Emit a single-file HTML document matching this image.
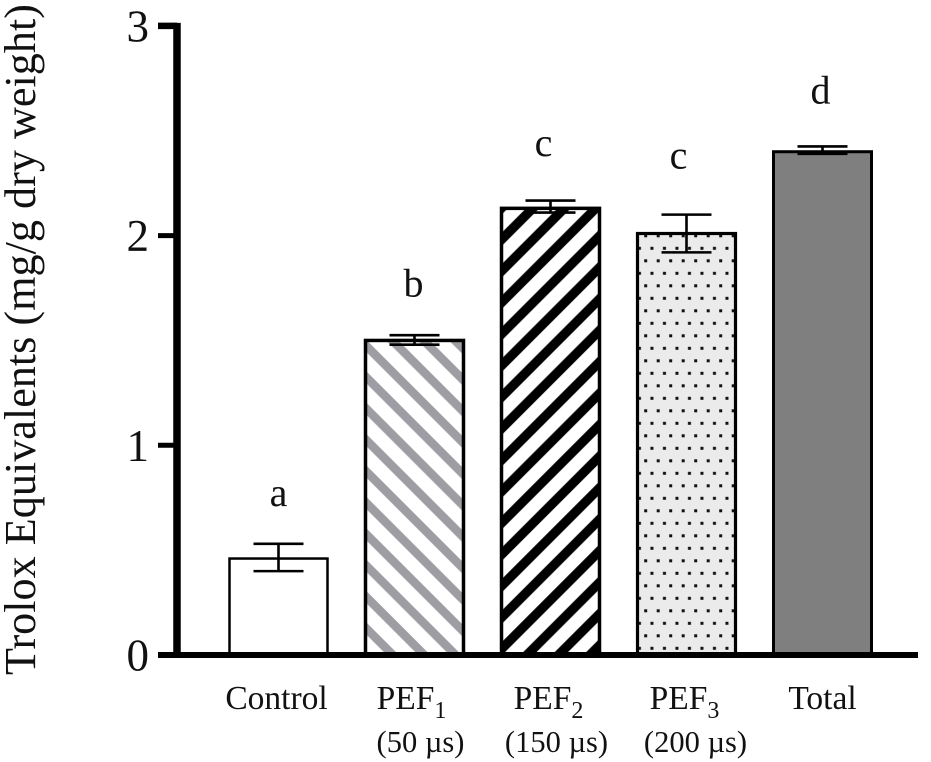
<!DOCTYPE html>
<html lang="en">
<head>
<meta charset="utf-8">
<title>Trolox Equivalents by Treatment</title>
<style>
  html, body { margin: 0; padding: 0; background: #fff; }
  svg { display: block; font-family: "Liberation Serif", "Times New Roman", serif; fill: #111; }
</style>
</head>
<body>
<svg id="chart" xmlns="http://www.w3.org/2000/svg" width="931" height="762" viewBox="0 0 931 762">
  <defs>
    <pattern id="stripe-gray" patternUnits="userSpaceOnUse" width="22.2" height="22.2" patternTransform="rotate(-45)">
      <rect x="10.12" y="0" width="8.6" height="22.2" fill="#9d9da3"/>
    </pattern>
    <pattern id="stripe-black" patternUnits="userSpaceOnUse" width="22.27" height="22.27" patternTransform="rotate(45)">
      <rect x="7.1" y="0" width="9.4" height="22.27" fill="#000"/>
    </pattern>
    <pattern id="dots" patternUnits="userSpaceOnUse" width="12.5" height="25" patternTransform="translate(645.7 248.3)">
      <rect x="-1" y="-1" width="14.5" height="27" fill="#ebebeb"/>
      <rect x="4.75" y="-1.5" width="3" height="3" fill="#111"/>
      <rect x="4.75" y="23.5" width="3" height="3" fill="#111"/>
      <rect x="-1.5" y="11" width="3" height="3" fill="#111"/>
      <rect x="11" y="11" width="3" height="3" fill="#111"/>
    </pattern>
  </defs>
  <text transform="translate(35 675) rotate(-90)" font-size="44.2">Trolox Equivalents (mg/g dry weight)</text>
  <g id="plot"></g>
</svg>
<script>
const categories = ["Control", "PEF", "PEF", "PEF", "Total"];
const categorySubscripts = ["", "1", "2", "3", ""];
const categoryDetails = ["", "(50 µs)", "(150 µs)", "(200 µs)", ""];
const means = [0.46, 1.50, 2.13, 2.01, 2.40];
const errorUpper = [0.53, 1.525, 2.167, 2.10, 2.425];
const errorLower = [0.40, 1.48, 2.11, 1.92, 2.39];
const significance = ["a", "b", "c", "c", "d"];
const significanceHeights = [0.71, 1.71, 2.38, 2.32, 2.63];
const yTicks = [0, 1, 2, 3];

const svgNS = "http://www.w3.org/2000/svg";
const plot = document.getElementById("plot");
const fills = ["#fff", "url(#stripe-gray)", "url(#stripe-black)", "url(#dots)", "#7f7f7f"];
const outlineWidths = [2.5, 3.5, 3.5, 3.2, 3];

function yScale(v) { return 655 - v * 209.7; }
function xCenter(i) { return 278.5 + i * 136; }

function make(tag, attrs, parent) {
  const el = document.createElementNS(svgNS, tag);
  for (const k in attrs) el.setAttribute(k, attrs[k]);
  (parent || plot).appendChild(el);
  return el;
}

categories.forEach(function (cat, i) {
  const cx = xCenter(i);
  const top = yScale(means[i]);
  const g = make("g", {});
  
  

  const bar = make("rect", {
    x: cx - 49, y: top, width: 98, height: 655 - top,
    fill: fills[i], stroke: "#000", "stroke-width": outlineWidths[i]
  }, g);
  
  

  const hi = yScale(errorUpper[i]);
  const lo = yScale(errorLower[i]);
  const err = make("path", {
    d: "M" + cx + "," + hi + " V" + lo +
       " M" + (cx - 25) + "," + hi + " H" + (cx + 25) +
       " M" + (cx - 25) + "," + lo + " H" + (cx + 25),
    fill: "none", stroke: "#000", "stroke-width": 2.6
  }, g);
  
  

  const letterNudge = [0, -1, -7, -8, -2][i];
  const letter = make("text", {
    x: cx + letterNudge, y: yScale(significanceHeights[i]),
    "text-anchor": "middle", "font-size": 40
  }, g);
  letter.textContent = significance[i];
  
  

  const nameNudge = [-2, -3, -2, -2, 0][i];
  const label = make("text", {
    x: cx + nameNudge, y: 709, "text-anchor": "middle", "font-size": 33.5
  }, g);
  
  
  label.appendChild(document.createTextNode(cat));
  if (categorySubscripts[i]) {
    const sub = make("tspan", { dy: 9, "font-size": 24 }, label);
    sub.textContent = categorySubscripts[i];
    
    
  }
  if (categoryDetails[i]) {
    const detailNudge = [0, 6, 6, 9, 0][i];
    const detail = make("text", {
      x: cx + detailNudge, y: 752, "text-anchor": "middle", "font-size": 30.5
    }, g);
    detail.textContent = categoryDetails[i];
    
    
  }
});

const yAxisLine = make("line", { x1: 177, x2: 177, y1: yScale(3) - 3, y2: 655, stroke: "#000", "stroke-width": 7.5 });



const xAxisLine = make("line", { x1: 158, x2: 918, y1: 655, y2: 655, stroke: "#000", "stroke-width": 6 });



yTicks.forEach(function (t) {
  const y = yScale(t);
  const mark = make("line", { x1: 158, x2: 177, y1: y, y2: y, stroke: "#000", "stroke-width": t === 3 ? 6.5 : 5 });
  
  
  const lab = make("text", { x: 149, y: y + 15.5, "text-anchor": "end", "font-size": 45 });
  lab.textContent = String(t);
  
  
});
</script>
</body>
</html>
